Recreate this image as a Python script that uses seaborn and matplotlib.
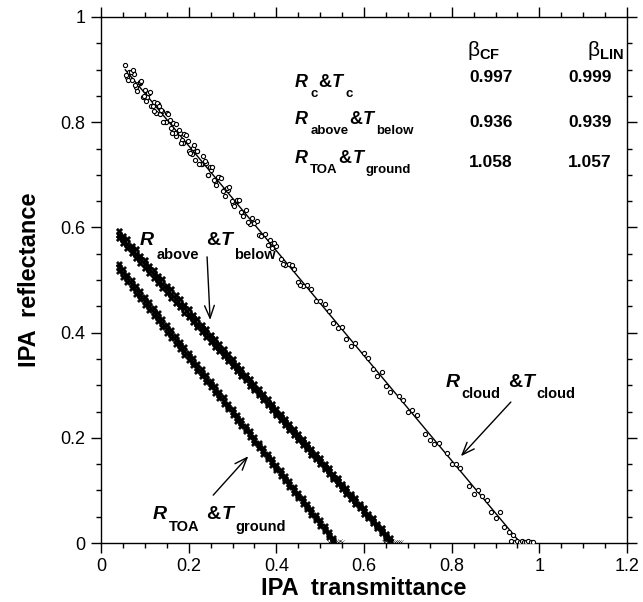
import matplotlib
matplotlib.use("Agg")
import matplotlib.pyplot as plt
from matplotlib.ticker import MultipleLocator, FuncFormatter
from matplotlib.transforms import offset_copy
import seaborn as sns
import pandas as pd

# ---------------- data ----------------
cloud_T = [0.055, 0.06, 0.065, 0.07, 0.075, 0.08, 0.085, 0.09, 0.095, 0.10, 0.105, 0.11, 0.115, 0.12,
           0.125, 0.13, 0.135, 0.14, 0.145, 0.15, 0.16, 0.165, 0.17, 0.18, 0.185, 0.19, 0.20, 0.21,
           0.215, 0.22, 0.23, 0.24, 0.245, 0.25, 0.26, 0.27, 0.28, 0.29, 0.30, 0.31, 0.32, 0.33, 0.34,
           0.35, 0.36, 0.375, 0.39, 0.40, 0.42, 0.43, 0.45, 0.47, 0.49, 0.51, 0.53, 0.55, 0.57, 0.60,
           0.62, 0.64, 0.66, 0.68, 0.70, 0.72, 0.75, 0.77, 0.80, 0.82, 0.85, 0.87, 0.89, 0.91, 0.93, 0.94,
           0.058, 0.068, 0.078, 0.088, 0.098, 0.108, 0.118, 0.128, 0.138, 0.148, 0.158, 0.168, 0.178,
           0.188, 0.198, 0.208, 0.218, 0.228, 0.238, 0.248, 0.258, 0.268, 0.278, 0.288, 0.298, 0.31,
           0.325, 0.345, 0.365, 0.385, 0.41, 0.44, 0.46, 0.50, 0.54, 0.58, 0.63, 0.69, 0.74, 0.79, 0.84,
           0.88, 0.92,
           0.062, 0.072, 0.083, 0.092, 0.102, 0.112, 0.122, 0.133, 0.142, 0.152, 0.162, 0.172, 0.183,
           0.193, 0.203, 0.213, 0.223, 0.233, 0.243, 0.253, 0.263, 0.273, 0.283, 0.293, 0.303, 0.315,
           0.335, 0.355, 0.38, 0.395, 0.415, 0.435, 0.455, 0.48, 0.52, 0.56, 0.61, 0.65, 0.71, 0.76,
           0.81, 0.86, 0.90,
           0.935, 0.945, 0.95, 0.955, 0.96, 0.965, 0.97, 0.975, 0.98, 0.985]
cloud_R = [0.908, 0.885, 0.895, 0.881, 0.892, 0.867, 0.873, 0.875, 0.848, 0.861, 0.847, 0.856, 0.831, 0.839,
           0.818, 0.834, 0.815, 0.822, 0.800, 0.817, 0.789, 0.798, 0.774, 0.780, 0.766, 0.778, 0.746, 0.751,
           0.728, 0.745, 0.720, 0.723, 0.700, 0.709, 0.688, 0.696, 0.671, 0.672, 0.644, 0.650, 0.629, 0.634, 0.607,
           0.609, 0.585, 0.588, 0.560, 0.565, 0.528, 0.530, 0.496, 0.491, 0.461, 0.454, 0.419, 0.410, 0.375, 0.362,
           0.330, 0.325, 0.287, 0.279, 0.249, 0.243, 0.195, 0.191, 0.151, 0.142, 0.093, 0.090, 0.059, 0.058, 0.021, 0.015,
           0.890, 0.896, 0.870, 0.876, 0.850, 0.855, 0.830, 0.836, 0.824, 0.800, 0.805, 0.780, 0.786,
           0.760, 0.764, 0.740, 0.745, 0.720, 0.726, 0.714, 0.690, 0.695, 0.670, 0.675, 0.650, 0.652,
           0.622, 0.617, 0.583, 0.576, 0.539, 0.521, 0.488, 0.461, 0.409, 0.381, 0.318, 0.272, 0.207, 0.172, 0.108,
           0.081, 0.030,
           0.880, 0.899, 0.860, 0.878, 0.840, 0.858, 0.821, 0.830, 0.800, 0.815, 0.780, 0.797, 0.760,
           0.775, 0.741, 0.756, 0.720, 0.735, 0.700, 0.715, 0.681, 0.694, 0.660, 0.676, 0.640, 0.652,
           0.611, 0.612, 0.566, 0.570, 0.531, 0.528, 0.491, 0.483, 0.441, 0.388, 0.351, 0.298, 0.252, 0.188,
           0.150, 0.101, 0.048,
           0.003, 0.002, 0.004, 0.001, 0.003, 0.002, 0.001, 0.003, 0.002, 0.001]

above_T = [0.04, 0.05, 0.06, 0.07, 0.08, 0.09, 0.10, 0.11, 0.12, 0.13, 0.14, 0.15, 0.16, 0.17, 0.18, 0.19,
           0.20, 0.21, 0.22, 0.23, 0.24, 0.25, 0.26, 0.27, 0.28, 0.29, 0.30, 0.31, 0.32, 0.33, 0.34, 0.35,
           0.36, 0.37, 0.38, 0.39, 0.40, 0.41, 0.42, 0.43, 0.44, 0.45, 0.46, 0.47, 0.48, 0.49, 0.50, 0.51,
           0.52, 0.53, 0.54, 0.55, 0.56, 0.57, 0.58, 0.59, 0.60, 0.61, 0.62, 0.63, 0.64, 0.65, 0.66]
above_R_hi = [0.594, 0.583, 0.577, 0.565, 0.558, 0.546, 0.538, 0.527, 0.519, 0.508, 0.501, 0.489, 0.482, 0.471,
              0.463, 0.452, 0.444, 0.433, 0.425, 0.414, 0.406, 0.396, 0.387, 0.378, 0.368, 0.359, 0.349, 0.339,
              0.331, 0.320, 0.311, 0.302, 0.292, 0.283, 0.273, 0.264, 0.255, 0.245, 0.236, 0.226, 0.217, 0.208,
              0.198, 0.188, 0.179, 0.170, 0.161, 0.150, 0.142, 0.131, 0.123, 0.113, 0.104, 0.094, 0.085, 0.075,
              0.066, 0.056, 0.047, 0.037, 0.028, 0.018, 0.009]
above_R_mid = [0.586, 0.577, 0.568, 0.558, 0.549, 0.539, 0.530, 0.521, 0.511, 0.502, 0.493, 0.483, 0.474, 0.464,
               0.455, 0.446, 0.436, 0.427, 0.417, 0.408, 0.399, 0.389, 0.380, 0.371, 0.361, 0.352, 0.342, 0.333,
               0.324, 0.314, 0.305, 0.295, 0.286, 0.277, 0.267, 0.258, 0.248, 0.239, 0.230, 0.220, 0.211, 0.201,
               0.192, 0.183, 0.173, 0.164, 0.155, 0.145, 0.136, 0.126, 0.117, 0.108, 0.098, 0.089, 0.079, 0.070,
               0.061, 0.051, 0.042, 0.032, 0.023, 0.014, 0.004]
above_R_lo = [0.579, 0.570, 0.560, 0.551, 0.541, 0.532, 0.522, 0.514, 0.504, 0.495, 0.485, 0.476, 0.466, 0.457,
              0.448, 0.438, 0.429, 0.420, 0.410, 0.401, 0.392, 0.382, 0.373, 0.365, 0.355, 0.346, 0.336, 0.327,
              0.318, 0.309, 0.299, 0.290, 0.281, 0.272, 0.262, 0.253, 0.243, 0.234, 0.225, 0.215, 0.206, 0.196,
              0.187, 0.178, 0.168, 0.159, 0.150, 0.141, 0.131, 0.122, 0.112, 0.103, 0.094, 0.084, 0.075, 0.066,
              0.056, 0.047, 0.038, 0.028, 0.019, 0.010, 0.002]
above_axis_T = [0.645, 0.65, 0.655, 0.66, 0.665, 0.67, 0.675, 0.68, 0.685]
above_axis_R = [0.002, 0.003, 0.001, 0.002, 0.003, 0.001, 0.002, 0.001, 0.002]

toa_T = [0.04, 0.05, 0.06, 0.07, 0.08, 0.09, 0.10, 0.11, 0.12, 0.13, 0.14, 0.15, 0.16, 0.17, 0.18, 0.19,
         0.20, 0.21, 0.22, 0.23, 0.24, 0.25, 0.26, 0.27, 0.28, 0.29, 0.30, 0.31, 0.32, 0.33, 0.34, 0.35,
         0.36, 0.37, 0.38, 0.39, 0.40, 0.41, 0.42, 0.43, 0.44, 0.45, 0.46, 0.47, 0.48, 0.49, 0.50, 0.51,
         0.52, 0.53]
toa_R_hi = [0.531, 0.521, 0.509, 0.500, 0.488, 0.479, 0.467, 0.458, 0.446, 0.437, 0.425, 0.415, 0.404, 0.394,
            0.383, 0.372, 0.362, 0.351, 0.340, 0.330, 0.319, 0.308, 0.298, 0.287, 0.277, 0.265, 0.255, 0.244,
            0.234, 0.223, 0.213, 0.202, 0.191, 0.181, 0.170, 0.159, 0.149, 0.138, 0.128, 0.117, 0.106, 0.096,
            0.085, 0.074, 0.064, 0.053, 0.043, 0.032, 0.021, 0.010]
toa_R_mid = [0.524, 0.513, 0.503, 0.492, 0.481, 0.471, 0.460, 0.450, 0.439, 0.429, 0.418, 0.407, 0.397, 0.386,
             0.376, 0.365, 0.355, 0.344, 0.333, 0.323, 0.312, 0.302, 0.291, 0.281, 0.270, 0.259, 0.249, 0.238,
             0.228, 0.217, 0.207, 0.196, 0.186, 0.175, 0.164, 0.154, 0.143, 0.133, 0.122, 0.112, 0.101, 0.090,
             0.080, 0.069, 0.059, 0.048, 0.038, 0.027, 0.016, 0.006]
toa_R_lo = [0.517, 0.506, 0.496, 0.485, 0.474, 0.464, 0.453, 0.443, 0.432, 0.422, 0.411, 0.400, 0.390, 0.379,
            0.369, 0.358, 0.348, 0.338, 0.327, 0.317, 0.306, 0.296, 0.285, 0.275, 0.264, 0.254, 0.243, 0.232,
            0.222, 0.212, 0.201, 0.191, 0.180, 0.170, 0.159, 0.149, 0.138, 0.128, 0.117, 0.107, 0.096, 0.085,
            0.075, 0.064, 0.054, 0.043, 0.033, 0.022, 0.012, 0.002]
toa_axis_T = [0.52, 0.525, 0.53, 0.535, 0.54, 0.545, 0.55]
toa_axis_R = [0.002, 0.003, 0.001, 0.002, 0.001, 0.003, 0.002]

# regression lines (end points)
fit_cloud_T, fit_cloud_R = [0.055, 0.957], [0.900, 0.0]
fit_above_T, fit_above_R = [0.04, 0.665], [0.586, 0.0]
fit_toa_T, fit_toa_R = [0.036, 0.535], [0.528, 0.0]

row_subs = [('c', 'c'), ('above', 'below'), ('TOA', 'ground')]
beta_cf = ['0.997', '0.936', '1.058']
beta_lin = ['0.999', '0.939', '1.057']

# ---------------- style ----------------
sns.set_style('ticks')
plt.rcParams['font.family'] = ['Liberation Sans', 'DejaVu Sans']
plt.rcParams['mathtext.fontset'] = 'custom'
plt.rcParams['mathtext.it'] = 'Liberation Sans:italic:bold'
plt.rcParams['mathtext.rm'] = 'Liberation Sans:bold'
plt.rcParams['mathtext.bf'] = 'Liberation Sans:bold'
for key in ('text.color', 'axes.labelcolor', 'xtick.color', 'ytick.color', 'axes.edgecolor'):
    plt.rcParams[key] = 'black'

fig = plt.figure(figsize=(6.43, 6.02), dpi=100)
ax = fig.add_axes([101 / 643, 1 - 543 / 602, 526 / 643, 526 / 602])

# scatter
df_cloud = pd.DataFrame({'T': cloud_T, 'R': cloud_R})
sns.scatterplot(data=df_cloud, x='T', y='R', ax=ax, marker='o', s=9,
                facecolor='white', edgecolor='black', linewidth=0.8, zorder=3)

for rr in (above_R_hi, above_R_mid, above_R_lo):
    sns.scatterplot(x=above_T, y=rr, ax=ax, marker='X', s=22, color='black',
                    edgecolor='black', linewidth=0.3, zorder=3)
sns.scatterplot(x=above_axis_T, y=above_axis_R, ax=ax, marker='x', s=10, color='black', zorder=3)

for rr in (toa_R_hi, toa_R_mid, toa_R_lo):
    sns.scatterplot(x=toa_T, y=rr, ax=ax, marker='X', s=20, color='black',
                    edgecolor='black', linewidth=0.3, zorder=3)
sns.scatterplot(x=toa_axis_T, y=toa_axis_R, ax=ax, marker='x', s=10, color='black', zorder=3)

# fit lines
for tt, rr in ((fit_cloud_T, fit_cloud_R), (fit_above_T, fit_above_R), (fit_toa_T, fit_toa_R)):
    sns.lineplot(x=tt, y=rr, ax=ax, color='black', linewidth=1.0, zorder=2)

# axes
ax.set_xlim(0, 1.2)
ax.set_ylim(0, 1)
ax.xaxis.set_major_locator(MultipleLocator(0.2))
ax.yaxis.set_major_locator(MultipleLocator(0.2))
ax.xaxis.set_minor_locator(MultipleLocator(0.05))
ax.yaxis.set_minor_locator(MultipleLocator(0.05))
fmt = FuncFormatter(lambda v, p: '%g' % round(v, 3))
ax.xaxis.set_major_formatter(fmt)
ax.yaxis.set_major_formatter(fmt)
ax.tick_params(which='both', direction='out', top=True, right=True, width=1.0, color='black',
               labelcolor='black')
ax.tick_params(which='major', length=7, labelsize=13, pad=4)
ax.tick_params(which='minor', length=3.5)
for sp in ax.spines.values():
    sp.set_visible(True)
    sp.set_linewidth(1.0)
    sp.set_color('black')

ax.set_xlabel('IPA  transmittance', fontsize=17, fontweight='bold', labelpad=1, color='black')
ax.set_ylabel('IPA  reflectance', fontsize=17, fontweight='bold', labelpad=14, color='black')

renderer = fig.canvas.get_renderer()


def compose(x, y, parts):
    """Write pieces of text one after another (main letters and lowered subscripts)."""
    x_off = 0.0
    for s, size, style, dy, gap in parts:
        tr = offset_copy(ax.transData, fig=fig, x=x_off, y=dy, units='points')
        t = ax.text(x, y, s, fontsize=size, fontstyle=style, fontweight='bold',
                    ha='left', va='baseline', transform=tr, color='black')
        bb = t.get_window_extent(renderer)
        x_off += bb.width * 72.0 / fig.dpi + gap


def label(x, y, rsub, tsub, size, subsize, drop, gap_mid):
    compose(x, y, [('R', size, 'italic', 0, 1.5),
                   (rsub, subsize, 'normal', -drop, gap_mid),
                   ('&', size, 'normal', 0, 0.5),
                   ('T', size, 'italic', 0, 1.5),
                   (tsub, subsize, 'normal', -drop, 0)])


# table
ax.text(0.873, 0.937, r'β$_{\mathrm{CF}}$', fontsize=15, ha='center', va='center', color='black')
ax.text(1.15, 0.937, r'β$_{\mathrm{LIN}}$', fontsize=15, ha='center', va='center', color='black')
row_y = [0.866, 0.797, 0.722]
num_y = [0.876, 0.791, 0.715]
for (rs, ts), cf, lin, yy, ny in zip(row_subs, beta_cf, beta_lin, row_y, num_y):
    label(0.443, yy, rs, ts, 13, 9.5, 7, 0.5)
    ax.text(0.889, ny, cf, fontsize=12.5, fontweight='bold', ha='center', va='baseline', color='black')
    ax.text(1.115, ny, lin, fontsize=12.5, fontweight='bold', ha='center', va='baseline', color='black')

# curve labels
label(0.089, 0.567, 'above', 'below', 14, 10.5, 10, 5)
label(0.118, 0.046, 'TOA', 'ground', 14, 10.5, 9, 5)
label(0.786, 0.297, 'cloud', 'cloud', 14, 10.5, 8, 5)

arrow = dict(arrowstyle='->,head_length=0.9,head_width=0.35', color='black', lw=1.0, shrinkA=0, shrinkB=0)
ax.annotate('', xy=(0.249, 0.424), xytext=(0.242, 0.544), arrowprops=arrow)
ax.annotate('', xy=(0.336, 0.165), xytext=(0.256, 0.091), arrowprops=arrow)
ax.annotate('', xy=(0.821, 0.165), xytext=(0.935, 0.268), arrowprops=arrow)

fig.savefig('out.png', dpi=100)
